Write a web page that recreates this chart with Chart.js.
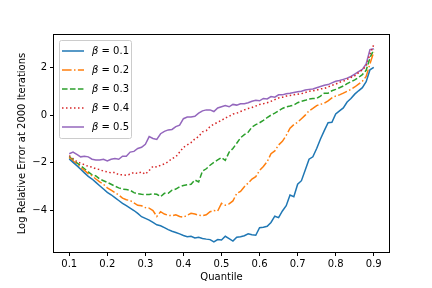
<!DOCTYPE html>
<html>
<head>
<meta charset="utf-8">
<script src="https://cdn.jsdelivr.net/npm/chart.js@4"></script>
<style>
  html, body { margin: 0; padding: 0; background: #fff; }
  #wrap { width: 432px; height: 288px; }
</style>
</head>
<body>
<div id="wrap"><canvas id="chart" width="432" height="288"></canvas></div>
<script>
const quantiles = [
  0.10, 0.11, 0.12, 0.13, 0.14, 0.15, 0.16, 0.17, 0.18, 0.19,
  0.20, 0.21, 0.22, 0.23, 0.24, 0.25, 0.26, 0.27, 0.28, 0.29,
  0.30, 0.31, 0.32, 0.33, 0.34, 0.35, 0.36, 0.37, 0.38, 0.39,
  0.40, 0.41, 0.42, 0.43, 0.44, 0.45, 0.46, 0.47, 0.48, 0.49,
  0.50, 0.51, 0.52, 0.53, 0.54, 0.55, 0.56, 0.57, 0.58, 0.59,
  0.60, 0.61, 0.62, 0.63, 0.64, 0.65, 0.66, 0.67, 0.68, 0.69,
  0.70, 0.71, 0.72, 0.73, 0.74, 0.75, 0.76, 0.77, 0.78, 0.79,
  0.80, 0.81, 0.82, 0.83, 0.84, 0.85, 0.86, 0.87, 0.88, 0.89,
  0.90
];

const beta01 = [
  -1.84, -1.98, -2.12, -2.27, -2.42, -2.57, -2.68, -2.82, -2.96, -3.10,
  -3.24, -3.34, -3.46, -3.58, -3.70, -3.80, -3.90, -4.00, -4.12, -4.26,
  -4.33, -4.40, -4.50, -4.60, -4.64, -4.72, -4.80, -4.87, -4.92, -4.98,
  -5.05, -5.10, -5.08, -5.15, -5.12, -5.17, -5.20, -5.22, -5.32, -5.22,
  -5.24, -5.08, -5.18, -5.28, -5.12, -5.10, -5.06, -4.98, -5.02, -5.04,
  -4.72, -4.70, -4.66, -4.50, -4.24, -4.30, -4.02, -3.80, -3.35, -3.42,
  -2.90, -2.75, -2.30, -1.85, -1.75, -1.40, -1.00, -0.65, -0.32, -0.30,
  0.05, 0.18, 0.30, 0.55, 0.70, 0.88, 1.02, 1.15, 1.40, 1.90,
  2.00
];
const beta02 = [
  -1.78, -1.92, -2.05, -2.20, -2.32, -2.45, -2.55, -2.68, -2.80, -2.90,
  -3.05, -3.15, -3.25, -3.35, -3.48, -3.55, -3.58, -3.68, -3.78, -3.80,
  -3.88, -3.90, -4.00, -4.25, -4.05, -4.15, -4.20, -4.22, -4.18, -4.25,
  -4.28, -4.20, -4.12, -4.15, -4.20, -4.22, -4.18, -4.05, -4.00, -4.02,
  -3.70, -3.78, -3.72, -3.60, -3.28, -3.20, -3.00, -2.85, -2.68, -2.58,
  -2.32, -2.15, -1.95, -1.62, -1.50, -1.25, -1.10, -0.85, -0.55, -0.40,
  -0.30, -0.15, 0.00, 0.18, 0.28, 0.40, 0.45, 0.50, 0.60, 0.72,
  0.80, 0.85, 0.92, 1.00, 1.08, 1.18, 1.30, 1.42, 1.62, 2.15,
  2.65
];
const beta03 = [
  -1.75, -1.88, -2.00, -2.12, -2.25, -2.38, -2.50, -2.55, -2.68, -2.75,
  -2.82, -2.90, -2.98, -3.05, -3.10, -3.12, -3.15, -3.25, -3.30, -3.32,
  -3.33, -3.33, -3.30, -3.32, -3.42, -3.28, -3.28, -3.15, -3.10, -3.00,
  -2.95, -2.92, -2.90, -2.72, -2.80, -2.35, -2.25, -2.10, -1.98, -1.88,
  -1.78, -1.90, -1.55, -1.40, -1.18, -0.95, -0.82, -0.72, -0.50, -0.40,
  -0.32, -0.22, -0.10, 0.00, 0.08, 0.18, 0.28, 0.35, 0.38, 0.42,
  0.52, 0.58, 0.62, 0.68, 0.70, 0.70, 0.80, 0.92, 0.92, 1.02,
  1.08, 1.15, 1.22, 1.32, 1.40, 1.48, 1.58, 1.70, 1.88, 2.40,
  2.75
];
const beta04 = [
  -1.70, -1.82, -1.95, -2.02, -2.08, -2.15, -2.18, -2.25, -2.28, -2.35,
  -2.38, -2.42, -2.40, -2.50, -2.50, -2.52, -2.48, -2.40, -2.45, -2.38,
  -2.48, -2.32, -2.15, -2.18, -2.10, -2.05, -1.95, -1.82, -1.75, -1.55,
  -1.35, -1.25, -1.15, -1.00, -0.90, -0.70, -0.65, -0.48, -0.38, -0.30,
  -0.22, -0.12, -0.05, 0.05, 0.08, 0.15, 0.22, 0.28, 0.32, 0.38,
  0.45, 0.48, 0.52, 0.58, 0.65, 0.72, 0.75, 0.80, 0.82, 0.85,
  0.88, 0.90, 0.95, 1.00, 1.02, 1.05, 1.10, 1.12, 1.18, 1.25,
  1.30, 1.38, 1.42, 1.50, 1.58, 1.65, 1.78, 1.90, 2.05, 2.55,
  2.95
];
const beta05 = [
  -1.62, -1.55, -1.65, -1.75, -1.72, -1.75, -1.85, -1.88, -1.88, -1.85,
  -1.92, -1.85, -1.82, -1.85, -1.72, -1.72, -1.55, -1.52, -1.40, -1.35,
  -1.22, -0.90, -0.98, -1.02, -0.78, -0.68, -0.62, -0.60, -0.48, -0.42,
  -0.15, -0.08, -0.08, -0.05, 0.08, 0.18, 0.22, 0.22, 0.15, 0.30,
  0.35, 0.40, 0.35, 0.45, 0.42, 0.48, 0.48, 0.52, 0.58, 0.62,
  0.60, 0.70, 0.68, 0.78, 0.75, 0.85, 0.85, 0.90, 0.92, 0.95,
  0.98, 1.00, 1.05, 1.08, 1.10, 1.15, 1.20, 1.25, 1.28, 1.35,
  1.42, 1.45, 1.50, 1.55, 1.62, 1.72, 1.82, 1.92, 2.15, 2.75,
  2.78
];

const seriesLabels = ['0.1', '0.2', '0.3', '0.4', '0.5'];
const xTicks = [0.1, 0.2, 0.3, 0.4, 0.5, 0.6, 0.7, 0.8, 0.9];
const yTicks = [-4, -2, 0, 2];

const COLORS = ['#1f77b4', '#ff7f0e', '#2ca02c', '#d62728', '#9467bd'];
const DASHES = [[], [9.6, 2.4, 1.5, 2.4], [5.55, 2.4], [1.5, 2.5], []];
const FONT = 'DejaVu Sans';

function toPoints(values) {
  return values.map((v, i) => ({ x: quantiles[i], y: v }));
}

// frame on all four sides, like matplotlib spines
const framePlugin = {
  id: 'frame',
  afterDatasetsDraw(chart) {
    const { ctx, chartArea: a } = chart;
    ctx.save();
    ctx.strokeStyle = '#000';
    ctx.lineWidth = 1;
    ctx.strokeRect(Math.round(a.left) - 0.5, Math.round(a.top) - 0.5,
      Math.round(a.right - a.left) + 1, Math.round(a.bottom - a.top) + 1);
    ctx.restore();
  }
};

// legend box in the upper left corner of the axes
const legendPlugin = {
  id: 'innerLegend',
  afterDraw(chart) {
    const { ctx, chartArea: a } = chart;
    const x0 = a.left + 5, y0 = a.top + 5;
    const w = 72, h = 98;
    ctx.save();
    ctx.fillStyle = 'rgba(255,255,255,0.8)';
    ctx.strokeStyle = '#cccccc';
    ctx.lineWidth = 1;
    ctx.beginPath();
    ctx.roundRect(x0 + 0.5, y0 + 0.5, w, h, 2);
    ctx.fill();
    ctx.stroke();

    chart.data.datasets.forEach((ds, i) => {
      const y = y0 + 11 + i * 19;
      ctx.strokeStyle = ds.borderColor;
      ctx.lineWidth = 1.5;
      ctx.setLineDash(ds.borderDash);
      ctx.beginPath();
      ctx.moveTo(x0 + 3, y);
      ctx.lineTo(x0 + 25, y);
      ctx.stroke();
      ctx.setLineDash([]);

      ctx.fillStyle = '#000';
      ctx.textBaseline = 'middle';
      ctx.textAlign = 'left';
      ctx.font = 'italic 10px "' + FONT + '"';
      let tx = x0 + 33;
      ctx.fillText('\u03b2', tx, y);
      tx += ctx.measureText('\u03b2').width;
      ctx.font = '10px "' + FONT + '"';
      ctx.fillText(' = ' + seriesLabels[i], tx, y);
    });
    ctx.restore();
  }
};

new Chart(document.getElementById('chart'), {
  type: 'line',
  data: {
    datasets: [beta01, beta02, beta03, beta04, beta05].map((vals, i) => ({
      label: '\u03b2 = ' + seriesLabels[i],
      data: toPoints(vals),
      borderColor: COLORS[i],
      borderDash: DASHES[i],
      borderWidth: 1.5,
      pointRadius: 0,
      tension: 0,
      fill: false
    }))
  },
  options: {
    responsive: false,
    animation: false,
    layout: { padding: { left: 0, top: 35, right: 43, bottom: 0 } },
    plugins: {
      legend: { display: false },
      tooltip: { enabled: false }
    },
    scales: {
      x: {
        type: 'linear',
        min: 0.06,
        max: 0.94,
        afterBuildTicks: s => { s.ticks = xTicks.map(v => ({ value: v })); },
        afterFit: s => { s.height = 36; },
        border: { display: false },
        grid: { drawOnChartArea: false, drawTicks: true, tickLength: 4, color: '#000', lineWidth: 1 },
        ticks: {
          color: '#000',
          padding: 2,
          maxRotation: 0,
          font: { family: FONT, size: 10 },
          callback: v => v.toFixed(1)
        },
        title: {
          display: true,
          text: 'Quantile',
          color: '#000',
          font: { family: FONT, size: 10 },
          padding: { top: 0, bottom: 5 }
        }
      },
      y: {
        type: 'linear',
        min: -5.74,
        max: 3.36,
        afterBuildTicks: s => { s.ticks = yTicks.map(v => ({ value: v })); },
        afterFit: s => { s.width = 54; },
        border: { display: false },
        grid: { drawOnChartArea: false, drawTicks: true, tickLength: 4, color: '#000', lineWidth: 1 },
        ticks: {
          color: '#000',
          padding: 3,
          font: { family: FONT, size: 10 },
          callback: v => (v < 0 ? '\u2212' + Math.abs(v) : String(v))
        },
        title: {
          display: true,
          text: 'Log Relative Error at 2000 Iterations',
          color: '#000',
          font: { family: FONT, size: 10 },
          padding: { top: 16, bottom: 0 }
        }
      }
    }
  },
  plugins: [framePlugin, legendPlugin]
});
</script>
</body>
</html>
